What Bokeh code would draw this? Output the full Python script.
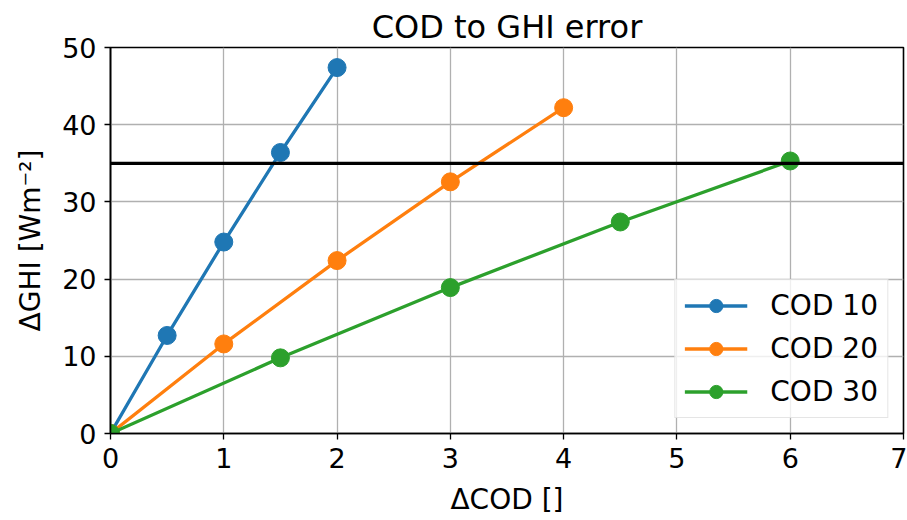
from bokeh.plotting import figure
from bokeh.models import Range1d, FixedTicker, Span, Legend, LegendItem
from bokeh.embed import file_html
from bokeh.resources import INLINE

# Change in cloud optical depth vs. resulting GHI error, per base COD
dcod_10 = [0, 0.5, 1.0, 1.5, 2.0]
dghi_10 = [0, 12.7, 24.8, 36.4, 47.4]

dcod_20 = [0, 1, 2, 3, 4]
dghi_20 = [0, 11.6, 22.4, 32.6, 42.2]

dcod_30 = [0, 1.5, 3.0, 4.5, 6.0]
dghi_30 = [0, 9.8, 18.9, 27.4, 35.3]

threshold = 35
x_ticks = [0, 1, 2, 3, 4, 5, 6, 7]
y_ticks = [0, 10, 20, 30, 40, 50]

FONT = "DejaVu Sans"

p = figure(
    width=907, height=520,
    output_backend="svg", toolbar_location=None,
    x_range=Range1d(0, 7), y_range=Range1d(0, 50),
    min_border_left=110, min_border_right=4,
    min_border_top=47, min_border_bottom=87,
    title="COD to GHI error",
)
p.background_fill_color = "white"
p.border_fill_color = "white"
p.outline_line_color = "black"
p.outline_line_width = 1.6

p.title.align = "center"
p.title.text_font = FONT
p.title.text_font_size = "32px"
p.title.text_font_style = "normal"
p.title.text_color = "black"
p.title.standoff = 4

# grid
for g in (p.xgrid, p.ygrid):
    g.grid_line_color = "#b0b0b0"
    g.grid_line_width = 1.3
p.xgrid.ticker = FixedTicker(ticks=x_ticks)
p.ygrid.ticker = FixedTicker(ticks=y_ticks)

# axes
p.xaxis.ticker = FixedTicker(ticks=x_ticks)
p.yaxis.ticker = FixedTicker(ticks=y_ticks)
p.xaxis.axis_label = "ΔCOD []"
p.yaxis.axis_label = "ΔGHI [Wm⁻²]"
for ax in (p.xaxis[0], p.yaxis[0]):
    ax.axis_line_color = "black"
    ax.axis_line_width = 1.6
    ax.major_tick_line_color = "black"
    ax.major_tick_line_width = 1.3
    ax.major_tick_out = 6
    ax.major_tick_in = 0
    ax.minor_tick_line_color = None
    ax.major_label_text_font = FONT
    ax.major_label_text_font_size = "27px"
    ax.major_label_text_color = "black"
    ax.axis_label_text_font = FONT
    ax.axis_label_text_font_size = "28px"
    ax.axis_label_text_font_style = "normal"
    ax.axis_label_text_color = "black"
p.xaxis.major_label_standoff = 8
p.xaxis.axis_label_standoff = 12
p.yaxis.major_label_standoff = 8
p.yaxis.axis_label_standoff = 12

# threshold line
p.add_layout(Span(location=threshold, dimension="width",
                  line_color="black", line_width=3.3))

series = [
    ("COD 10", dcod_10, dghi_10, "#1f77b4"),
    ("COD 20", dcod_20, dghi_20, "#ff7f0e"),
    ("COD 30", dcod_30, dghi_30, "#2ca02c"),
]
items = []
for label, xs, ys, color in series:
    ln = p.line(xs, ys, line_color=color, line_width=3.3)
    mk = p.scatter(xs, ys, size=18, fill_color=color, line_color=color)
    items.append(LegendItem(label=label, renderers=[ln, mk]))

legend = Legend(
    items=items, location="bottom_right",
    label_text_font=FONT, label_text_font_size="28px", label_text_color="black",
    glyph_width=63, glyph_height=33, label_height=33,
    spacing=10, padding=9, margin=15, label_standoff=23,
    border_line_color="#cccccc", border_line_width=1.5,
    background_fill_color="white", background_fill_alpha=0.8,
)
p.add_layout(legend, "center")

open("out.html", "w").write(file_html(p, INLINE))
